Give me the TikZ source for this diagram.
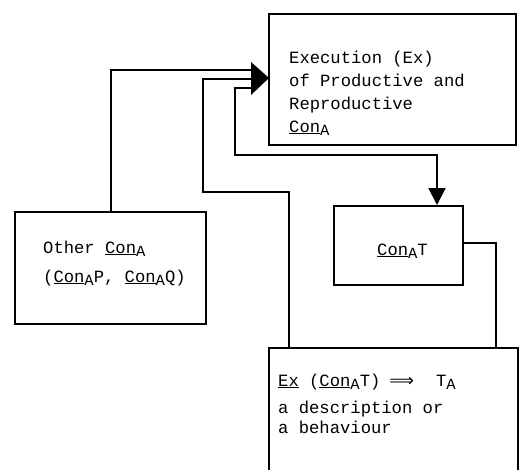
\documentclass[tikz,border=0pt]{standalone}
\usepackage{fontspec}
\setmonofont{Liberation Mono}
\newfontfamily\mysymfont{DejaVu Sans}
\usetikzlibrary{arrows.meta}
\newcommand\mysubA{\raisebox{-0.4ex}{\fontsize{15.5}{15.5}\selectfont A}}
\begin{document}
\begin{tikzpicture}[x=1pt,y=-1pt,
  box/.style={draw, line width=2pt, anchor=north west, inner sep=0pt},
  txt/.style={font=\ttfamily\fontsize{17.2}{22}\selectfont, anchor=base west, inner sep=0pt},
  conn/.style={line width=2pt},
  bigtip/.style={-{Triangle[length=17pt,width=17pt]}}]
\useasboundingbox (0,0) rectangle (519,469);
\clip (0,0) rectangle (519,469);
% boxes
\node[box, minimum width=247pt, minimum height=131pt] (ex) at (268,13) {};
\node[box, minimum width=191pt, minimum height=112pt] (other) at (14,211) {};
\node[box, minimum width=129pt, minimum height=79pt] (cat) at (333,205) {};
\node[box, minimum width=249pt, minimum height=140pt] (res) at (268,347) {};
% texts
\node[txt] (ex1) at (289,63) {Execution (Ex)};
\node[txt] (ex2) at (289,86) {of Productive and};
\node[txt] (ex3) at (289,109) {Reproductive};
\node[txt] (ex4) at (289,132) {\underline{Con}\mysubA};
\node[txt] (o1) at (43,253) {Other \underline{Con}\mysubA};
\node[txt] (o2) at (43,282) {(\underline{Con}\mysubA P, \underline{Con}\mysubA Q)};
\node[txt] (c1) at (377,255) {\underline{Con}\mysubA T};
\node[txt] (r1) at (278,386) {\underline{Ex} (\underline{Con}\mysubA T)\hspace{9pt}{\mysymfont ⟹}\hspace{22pt}T\mysubA};
\node[txt] (r2) at (278,413) {a description or};
\node[txt] (r3) at (278,433) {a behaviour};
% junction
\coordinate (j) at (251,79);
\fill (251,62) -- (269,78) -- (251,95) -- cycle;
% connectors
\draw[conn] (other.north) -- (other.north |- 0,70) -- (251,70);
\draw[conn] (res.north -| 289,0) -- (289,192) -- (203,192) -- (203,79) -- (j);
\draw[conn, bigtip] (251,88) -- (235,88) -- (235,155) -- (437,155) -- (cat.north -| 437,0);
\draw[conn] (cat.east |- 0,243) -- (496,243) -- (res.north -| 496,0);
\end{tikzpicture}
\end{document}
